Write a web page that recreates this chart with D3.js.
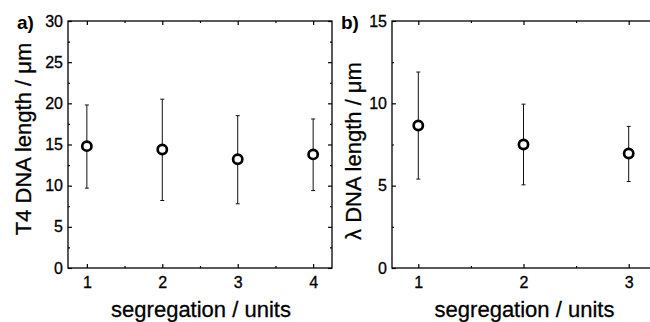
<!DOCTYPE html>
<html>
<head>
<meta charset="utf-8">
<script src="https://cdn.jsdelivr.net/npm/d3@7"></script>
<style>
  body { margin: 0; background: #fff; }
  svg { display: block; }
  .domain { display: none; }
  .tick line { stroke: #000; stroke-width: 1.2; }
</style>
</head>
<body>
<div id="chart"></div>
<script>
//set the width and height of the svg
var width = 650;
var height = 322;

//panel a) T4 DNA
var t4Segregation = [1, 2, 3, 4];
var t4Mean = [14.8, 14.4, 13.2, 13.8];
var t4Low = [9.7, 8.2, 7.8, 9.4];
var t4High = [19.8, 20.5, 18.5, 18.1];
var t4YTicks = [0, 5, 10, 15, 20, 25, 30];
var t4YMinor = [2.5, 7.5, 12.5, 17.5, 22.5, 27.5];
var t4XMinor = [1.5, 2.5, 3.5];

//panel b) lambda DNA
var lambdaSegregation = [1, 2, 3];
var lambdaMean = [8.65, 7.5, 6.95];
var lambdaLow = [5.4, 5.05, 5.25];
var lambdaHigh = [11.9, 9.95, 8.6];
var lambdaYTicks = [0, 5, 10, 15];
var lambdaYMinor = [2.5, 7.5, 12.5];
var lambdaXMinor = [1.5, 2.5];

var FONT = "Liberation Sans, Arial, sans-serif";

var svg = d3.select("#chart")
            .append("svg")
            .attr("width", width)
            .attr("height", height);

drawPanel({
  left: 68, right: 332, top: 21, bottom: 268,
  xDomain: [0.75, 4.25], yDomain: [0, 30],
  xs: t4Segregation, mean: t4Mean, low: t4Low, high: t4High,
  yTicks: t4YTicks, yMinor: t4YMinor, xMinor: t4XMinor,
  letter: "a)", letterX: 17,
  yTitle: "T4 DNA length / \u03bcm", yTitleX: 31, yTitleY: 139
});

drawPanel({
  left: 392, right: 655, top: 21, bottom: 268,
  xDomain: [0.75, 3.25], yDomain: [0, 15],
  xs: lambdaSegregation, mean: lambdaMean, low: lambdaLow, high: lambdaHigh,
  yTicks: lambdaYTicks, yMinor: lambdaYMinor, xMinor: lambdaXMinor,
  letter: "b)", letterX: 341,
  yTitle: "\u03bb DNA length / \u03bcm", yTitleX: 361, yTitleY: 151
});

function drawPanel(p)
{
  var xScale = d3.scaleLinear().domain(p.xDomain).range([p.left, p.right]);
  var yScale = d3.scaleLinear().domain(p.yDomain).range([p.bottom, p.top]);
  var g = svg.append("g");

  //major and minor ticks on all four sides, pointing inward
  var sides = [
    {axis: d3.axisBottom(xScale), t: "translate(0," + p.bottom + ")", major: p.xs, minor: p.xMinor, label: true, pad: 9},
    {axis: d3.axisTop(xScale), t: "translate(0," + p.top + ")", major: p.xs, minor: p.xMinor},
    {axis: d3.axisLeft(yScale), t: "translate(" + p.left + ",0)", major: p.yTicks, minor: p.yMinor, label: true, pad: 5},
    {axis: d3.axisRight(yScale), t: "translate(" + p.right + ",0)", major: p.yTicks, minor: p.yMinor}
  ];
  sides.forEach(function(s) {
    var major = g.append("g")
     .attr("transform", s.t)
     .call(s.axis.tickValues(s.major).tickSize(-4).tickPadding(s.pad || 0)
                 .tickFormat(s.label ? d3.format("d") : ""));
    major.attr("font-size", null).attr("font-family", null);
    major.selectAll("text")
         .style("font-family", FONT)
         .style("font-size", "16px")
         .attr("fill", "#000")
         .attr("stroke", "#000")
         .attr("stroke-width", 0.3);
    g.append("g")
     .attr("transform", s.t)
     .call(s.axis.tickValues(s.minor).tickSize(-2).tickFormat(""));
  });

  //plot frame
  g.append("rect")
   .attr("x", p.left).attr("y", p.top)
   .attr("width", p.right - p.left).attr("height", p.bottom - p.top)
   .attr("fill", "none").attr("stroke", "#000").attr("stroke-width", 1.3);

  var pts = p.xs.map(function(x, i) {
    return {x: x, mean: p.mean[i], low: p.low[i], high: p.high[i]};
  });

  //error bars
  var bars = g.selectAll("nonexistant").data(pts).enter().append("g");
  bars.append("line")
      .attr("x1", function(d) { return xScale(d.x); })
      .attr("x2", function(d) { return xScale(d.x); })
      .attr("y1", function(d) { return yScale(d.low); })
      .attr("y2", function(d) { return yScale(d.high); })
      .attr("stroke", "#111").attr("stroke-width", 1);
  ["low", "high"].forEach(function(k) {
    bars.append("line")
        .attr("x1", function(d) { return xScale(d.x) - 2; })
        .attr("x2", function(d) { return xScale(d.x) + 2; })
        .attr("y1", function(d) { return yScale(d[k]); })
        .attr("y2", function(d) { return yScale(d[k]); })
        .attr("stroke", "#111").attr("stroke-width", 1);
  });

  //open circles
  g.selectAll("nonexistant").data(pts).enter().append("circle")
   .attr("cx", function(d) { return xScale(d.x); })
   .attr("cy", function(d) { return yScale(d.mean); })
   .attr("r", 4.6)
   .attr("fill", "#fff").attr("stroke", "#000").attr("stroke-width", 2.7);

  //panel letter
  g.append("text")
   .text(p.letter)
   .attr("x", p.letterX).attr("y", 29)
   .style("font-family", FONT)
   .style("font-size", "19px").style("font-weight", "bold");

  //axis titles
  g.append("text")
   .text(p.yTitle)
   .attr("transform", "translate(" + p.yTitleX + "," + p.yTitleY + ") rotate(-90)")
   .style("text-anchor", "middle")
   .style("font-family", FONT)
   .style("font-size", "22px")
   .attr("stroke", "#000").attr("stroke-width", 0.3);
  g.append("text")
   .text("segregation / units")
   .attr("x", (p.left + p.right) / 2 + 1).attr("y", 317)
   .style("text-anchor", "middle")
   .style("font-family", FONT)
   .style("font-size", "22px")
   .attr("stroke", "#000").attr("stroke-width", 0.3);
}
</script>
</body>
</html>
